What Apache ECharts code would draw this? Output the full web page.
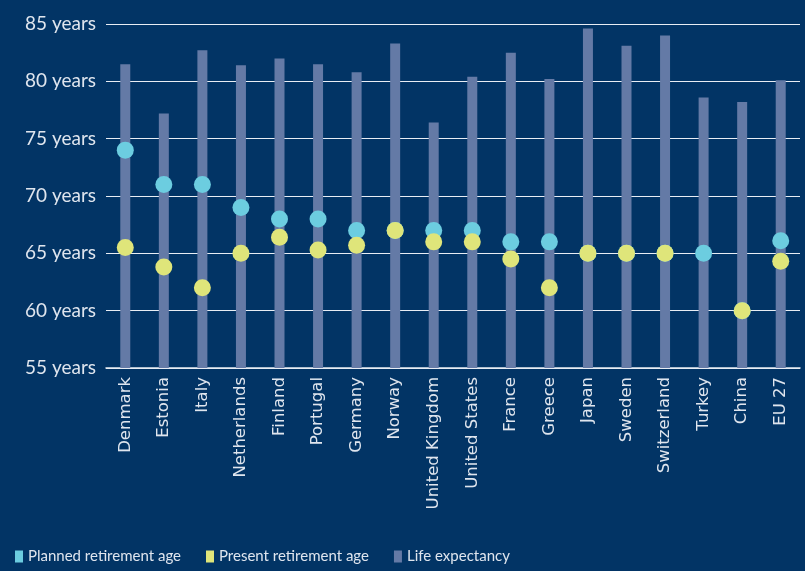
<!DOCTYPE html>
<html>
<head>
<meta charset="utf-8">
<script src="https://cdn.jsdelivr.net/npm/echarts@6/dist/echarts.min.js"></script>
<style>
  html, body { margin: 0; padding: 0; background: #023465; }
  #chart { width: 805px; height: 571px; }
</style>
</head>
<body>
<div id="chart"></div>
<script>
  // countries along the x axis
  var countries = ['Denmark', 'Estonia', 'Italy', 'Netherlands', 'Finland', 'Portugal', 'Germany', 'Norway',
    'United Kingdom', 'United States', 'France', 'Greece', 'Japan', 'Sweden', 'Switzerland', 'Turkey', 'China', 'EU 27'];
  var lifeExpectancy = [81.5, 77.2, 82.7, 81.4, 82.0, 81.5, 80.8, 83.3, 76.4, 80.4, 82.5, 80.2, 84.6, 83.1, 84.0, 78.6, 78.2, 80.1];
  var plannedAge = [74, 71, 71, 69, 68, 68, 67, 67, 67, 67, 66, 66, 65, 65, 65, 65, 60, 66.1];
  var presentAge = [65.5, 63.8, 62, 65, 66.4, 65.3, 65.7, 67, 66, 66, 64.5, 62, 65, 65, 65, null, 60, 64.3];
  var yTicks = [55, 85, 5]; // min, max, interval

  var chart = echarts.init(document.getElementById('chart'));
  var txt = '#dfe5ee';

  chart.setOption({
    backgroundColor: '#023465',
    animation: false,
    grid: { left: 106, right: 5, top: 24, bottom: 203 },
    legend: {
      left: 10,
      bottom: 2,
      icon: 'rect',
      itemWidth: 8,
      itemHeight: 12,
      itemGap: 25,
      textStyle: { color: txt, fontSize: 15, fontFamily: 'Lato, sans-serif' },
      data: ['Planned retirement age', 'Present retirement age', 'Life expectancy']
    },
    xAxis: {
      type: 'category',
      data: countries,
      axisLine: { lineStyle: { color: '#e8edf4', width: 1.5 } },
      axisTick: { alignWithLabel: true, length: 6, lineStyle: { color: '#e8edf4' } },
      axisLabel: { rotate: 90, color: txt, fontSize: 16.5, fontFamily: 'DejaVu Sans, sans-serif', margin: 9, interval: 0 }
    },
    yAxis: {
      type: 'value',
      min: yTicks[0],
      max: yTicks[1],
      interval: yTicks[2],
      axisLine: { show: false },
      axisTick: { show: false },
      axisLabel: { formatter: '{value} years', color: txt, fontSize: 19, fontFamily: 'Lato, sans-serif', margin: 10 },
      splitLine: { lineStyle: { color: '#e8edf4', width: 1.2 } }
    },
    series: [
      {
        name: 'Life expectancy',
        type: 'bar',
        barWidth: 10,
        itemStyle: { color: '#647aa6' },
        data: lifeExpectancy,
        z: 1
      },
      {
        name: 'Planned retirement age',
        type: 'scatter',
        symbolSize: 17,
        itemStyle: { color: '#6ccde0', opacity: 1 },
        data: plannedAge,
        z: 3
      },
      {
        name: 'Present retirement age',
        type: 'scatter',
        symbolSize: 17,
        itemStyle: { color: '#dfe57a', opacity: 1 },
        data: presentAge,
        z: 4
      }
    ]
  });
</script>
</body>
</html>
